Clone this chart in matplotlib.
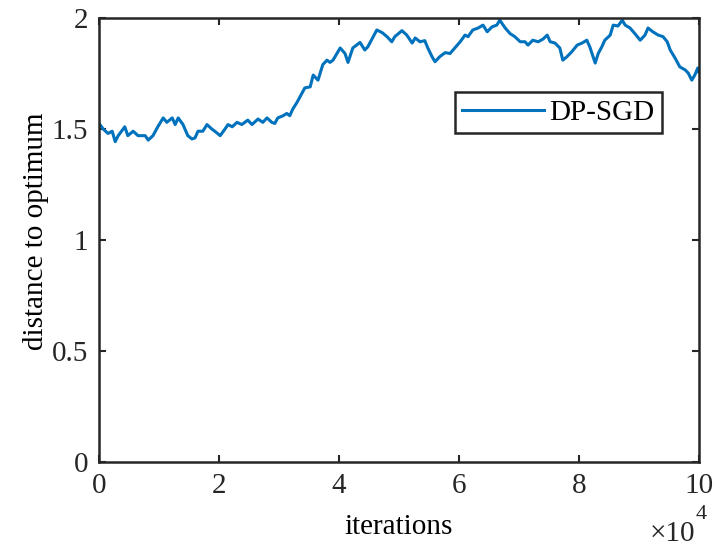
import matplotlib
matplotlib.use("Agg")
from matplotlib import pyplot as plt

# iterations (in units of 1e4) and distance
iters = [0.00, 0.07, 0.15, 0.22, 0.27, 0.32, 0.43, 0.48, 0.57, 0.65, 0.77, 0.82,
         0.90, 0.98, 1.07, 1.13, 1.22, 1.27, 1.32, 1.40, 1.48, 1.55, 1.60, 1.65,
         1.73, 1.80, 1.88, 1.93, 2.02, 2.10, 2.15, 2.22, 2.30, 2.38, 2.48, 2.55,
         2.65, 2.73, 2.80, 2.88, 2.93, 2.98, 3.07, 3.13, 3.18, 3.23, 3.30, 3.35,
         3.43, 3.52, 3.57, 3.65, 3.73, 3.80, 3.85, 3.90, 4.02, 4.10, 4.15, 4.23,
         4.35, 4.43, 4.48, 4.57, 4.63, 4.72, 4.80, 4.88, 4.93, 5.05, 5.13, 5.22,
         5.27, 5.35, 5.43, 5.48, 5.55, 5.60, 5.68, 5.77, 5.85, 5.93, 6.02, 6.10,
         6.15, 6.23, 6.32, 6.40, 6.47, 6.55, 6.63, 6.68, 6.77, 6.85, 6.93, 7.02,
         7.10, 7.15, 7.23, 7.32, 7.40, 7.47, 7.52, 7.60, 7.68, 7.73, 7.80, 7.88,
         7.97, 8.05, 8.13, 8.18, 8.27, 8.32, 8.38, 8.43, 8.52, 8.57, 8.65, 8.72,
         8.77, 8.85, 8.93, 9.02, 9.10, 9.15, 9.23, 9.32, 9.40, 9.47, 9.52, 9.60,
         9.68, 9.77, 9.82, 9.88, 9.93, 9.98, 10.00]
dist = [1.526, 1.50, 1.48, 1.49, 1.443, 1.47, 1.51, 1.47, 1.49, 1.47, 1.47, 1.45,
        1.47, 1.51, 1.55, 1.53, 1.55, 1.52, 1.55, 1.52, 1.47, 1.455, 1.46, 1.49,
        1.49, 1.52, 1.50, 1.49, 1.47, 1.50, 1.52, 1.51, 1.53, 1.52, 1.54, 1.52,
        1.545, 1.53, 1.55, 1.53, 1.525, 1.55, 1.56, 1.57, 1.56, 1.59, 1.62, 1.645,
        1.685, 1.69, 1.743, 1.72, 1.79, 1.81, 1.80, 1.81, 1.865, 1.84, 1.80, 1.865,
        1.89, 1.856, 1.87, 1.916, 1.946, 1.934, 1.916, 1.893, 1.916, 1.943, 1.923, 1.887,
        1.91, 1.893, 1.898, 1.865, 1.826, 1.803, 1.826, 1.844, 1.84, 1.865, 1.893, 1.923,
        1.916, 1.946, 1.955, 1.968, 1.938, 1.96, 1.968, 1.99, 1.955, 1.93, 1.916, 1.893,
        1.893, 1.878, 1.90, 1.893, 1.905, 1.923, 1.893, 1.887, 1.865, 1.81, 1.826, 1.848,
        1.878, 1.887, 1.90, 1.87, 1.797, 1.84, 1.87, 1.90, 1.923, 1.968, 1.964, 1.99,
        1.968, 1.955, 1.93, 1.90, 1.923, 1.955, 1.938, 1.923, 1.916, 1.893, 1.856, 1.82,
        1.78, 1.766, 1.752, 1.72, 1.743, 1.775, 1.757]

x_ticks = [0, 2, 4, 6, 8, 10]
y_ticks = [0, 0.5, 1, 1.5, 2]
y_tick_labels = ["0", "0.5", "1", "1.5", "2"]

plt.rcParams['font.family'] = ['Liberation Serif', 'DejaVu Serif']
plt.rcParams['font.size'] = 21

fig = plt.figure(figsize=(7.27, 5.48), dpi=100)
ax = fig.add_axes([99 / 727, 86 / 548, 600 / 727, 444 / 548])

ax.plot(iters, dist, color='#0072BD', linewidth=2.2, label='DP-SGD')

ax.set_xlim(0, 10)
ax.set_ylim(0, 2)
ax.set_xticks(x_ticks)
ax.set_yticks(y_ticks)
ax.set_yticklabels(y_tick_labels)
ax.tick_params(direction='in', length=5, width=1.5, top=True, right=True,
               labelsize=21, pad=8, colors='#262626')
for s in ax.spines.values():
    s.set_linewidth(1.8)
    s.set_color('#262626')

ax.set_xlabel("iterations", fontsize=21, labelpad=11)
ax.set_ylabel("distance to optimum", fontsize=21)
ax.yaxis.set_label_coords(-0.083, 0.52)

# x10^4 multiplier, MATLAB style
ax.text(0.918, -0.178, "\u00d710", transform=ax.transAxes,
        fontsize=21, ha='left', va='baseline', color='#262626')
ax.text(0.995, -0.128, "4", transform=ax.transAxes,
        fontsize=16, ha='left', va='baseline', color='#262626')

leg = ax.legend(loc='upper right', bbox_to_anchor=(0.938, 0.833), fancybox=False,
                edgecolor='#262626', framealpha=1, handlelength=2.8,
                handletextpad=0.2, borderpad=0.25, borderaxespad=0, fontsize=21)
leg.get_frame().set_linewidth(1.8)

plt.savefig("out.png", dpi=100)
